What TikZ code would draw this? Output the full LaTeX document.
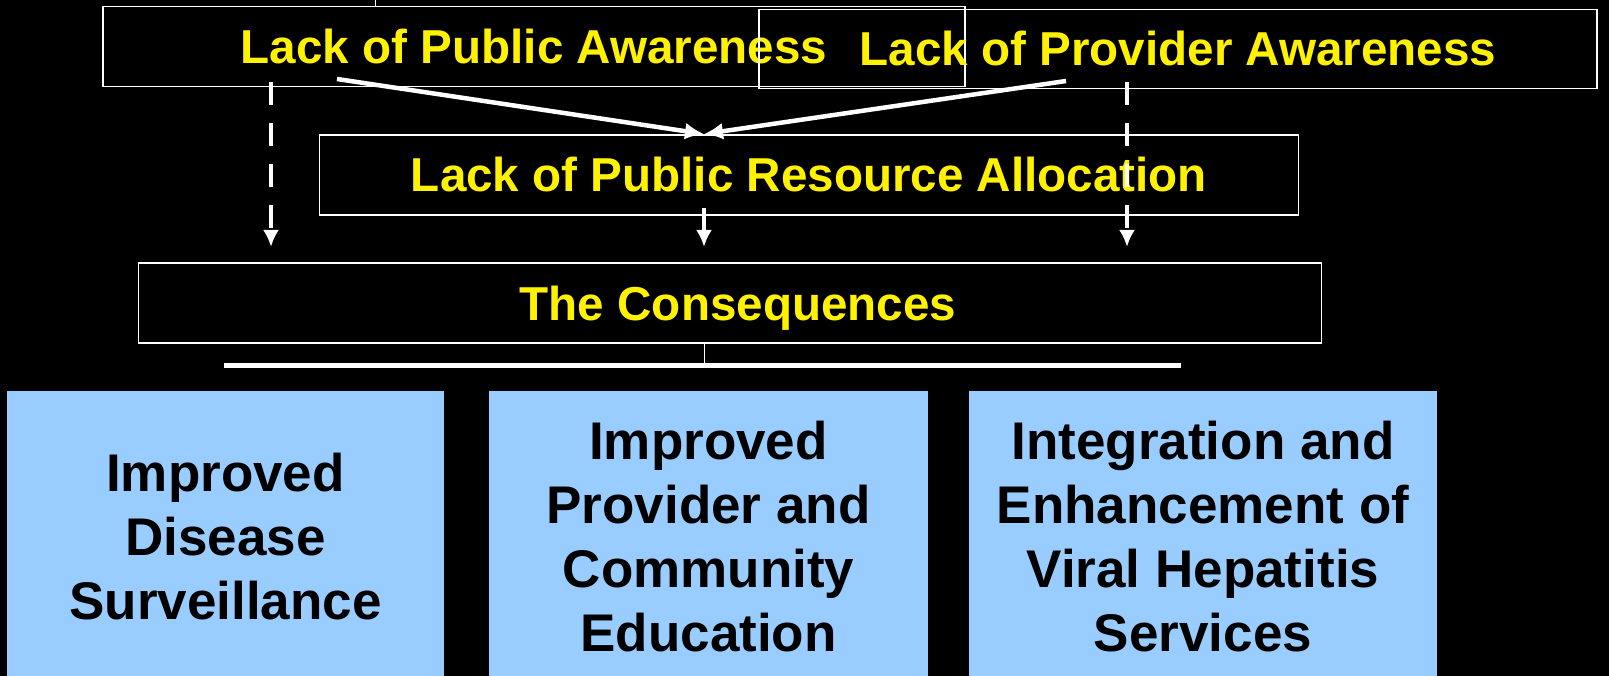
\documentclass[tikz,border=0pt]{standalone}
\usepackage{fontspec}
\setmainfont{Liberation Sans}
\usetikzlibrary{arrows.meta}
\definecolor{skyblue}{HTML}{99CCFF}
\tikzset{
	lackbox/.style={draw=white, line width=1.5pt, inner sep=0pt, text=yellow,
		text height=34pt, text depth=0pt,
		font=\fontsize{47.6}{56}\selectfont\bfseries},
	aimbox/.style={fill=skyblue, inner sep=0pt, align=center,
		font=\fontsize{53}{64}\selectfont\bfseries},
	push/.style={white, line width=4.5pt, -{Latex[length=19pt, width=17pt]}},
	drop/.style={white, line width=4pt, dash pattern=on 23pt off 18pt, -{Latex[length=17pt, width=16pt]}}
}
\begin{document}
\begin{tikzpicture}[x=1pt, y=-1pt]
			\fill[black] (0,0) rectangle (1609,676);
			\useasboundingbox (0,0) rectangle (1609,676);
			\clip (0,0) rectangle (1609,676);
			% the three lacks
			\node[lackbox, minimum width=862pt, minimum height=80pt] (pub) at (534,46.5) {Lack of Public Awareness};
			\node[lackbox, minimum width=838pt, minimum height=79pt] (prov) at (1178,49) {Lack of Provider Awareness};
			\node[lackbox, minimum width=979pt, minimum height=80pt] (res) at (809,175) {Lack of Public Resource Allocation};
			\node[lackbox, minimum width=1183pt, minimum height=80pt] (con) at (730,303) {\hspace*{16pt}The Consequences};
			% the three answers
			\node[aimbox, minimum width=437pt, minimum height=292pt] (surv) at (225.5,537) {Improved\\Disease\\Surveillance};
			\node[aimbox, minimum width=439pt, minimum height=292pt] (edu) at (708.5,537) {Improved\\Provider and\\Community\\Education};
			\node[aimbox, minimum width=468pt, minimum height=292pt] (serv) at (1203,537) {Integration and\\Enhancement of\\Viral Hepatitis\\Services};
			% arrow ends
			\coordinate (pubout) at (337,79);
			\coordinate (provout) at (1066,81);
			\coordinate (resin) at (704,134);
			\coordinate (pubdrop) at (271,82);
			\coordinate (provdrop) at (1127,82);
			\coordinate (resdrop) at (704,208);
			\coordinate (conleft) at (271,247);
			\coordinate (conright) at (1127,247);
			\coordinate (conmid) at (704,247);
			\coordinate (stem) at (704,343);
			\coordinate (barmid) at (704,364);
			\coordinate (barleft) at (224,365.5);
			\coordinate (barright) at (1181,365.5);
			\draw[push] (pubout) -- (resin);
			\draw[push] (provout) -- (resin);
			\foreach \a/\b in {pubdrop/conleft, provdrop/conright, resdrop/conmid} {
				\draw[drop] (\a) -- (\b);
			}
			\draw[white, thin] (stem) -- (barmid);
			\draw[white, line width=5pt] (barleft) -- (barright);
			\draw[white, thin] (375,0) -- (pub.north -| 375,0);
		\end{tikzpicture}
\end{document}
